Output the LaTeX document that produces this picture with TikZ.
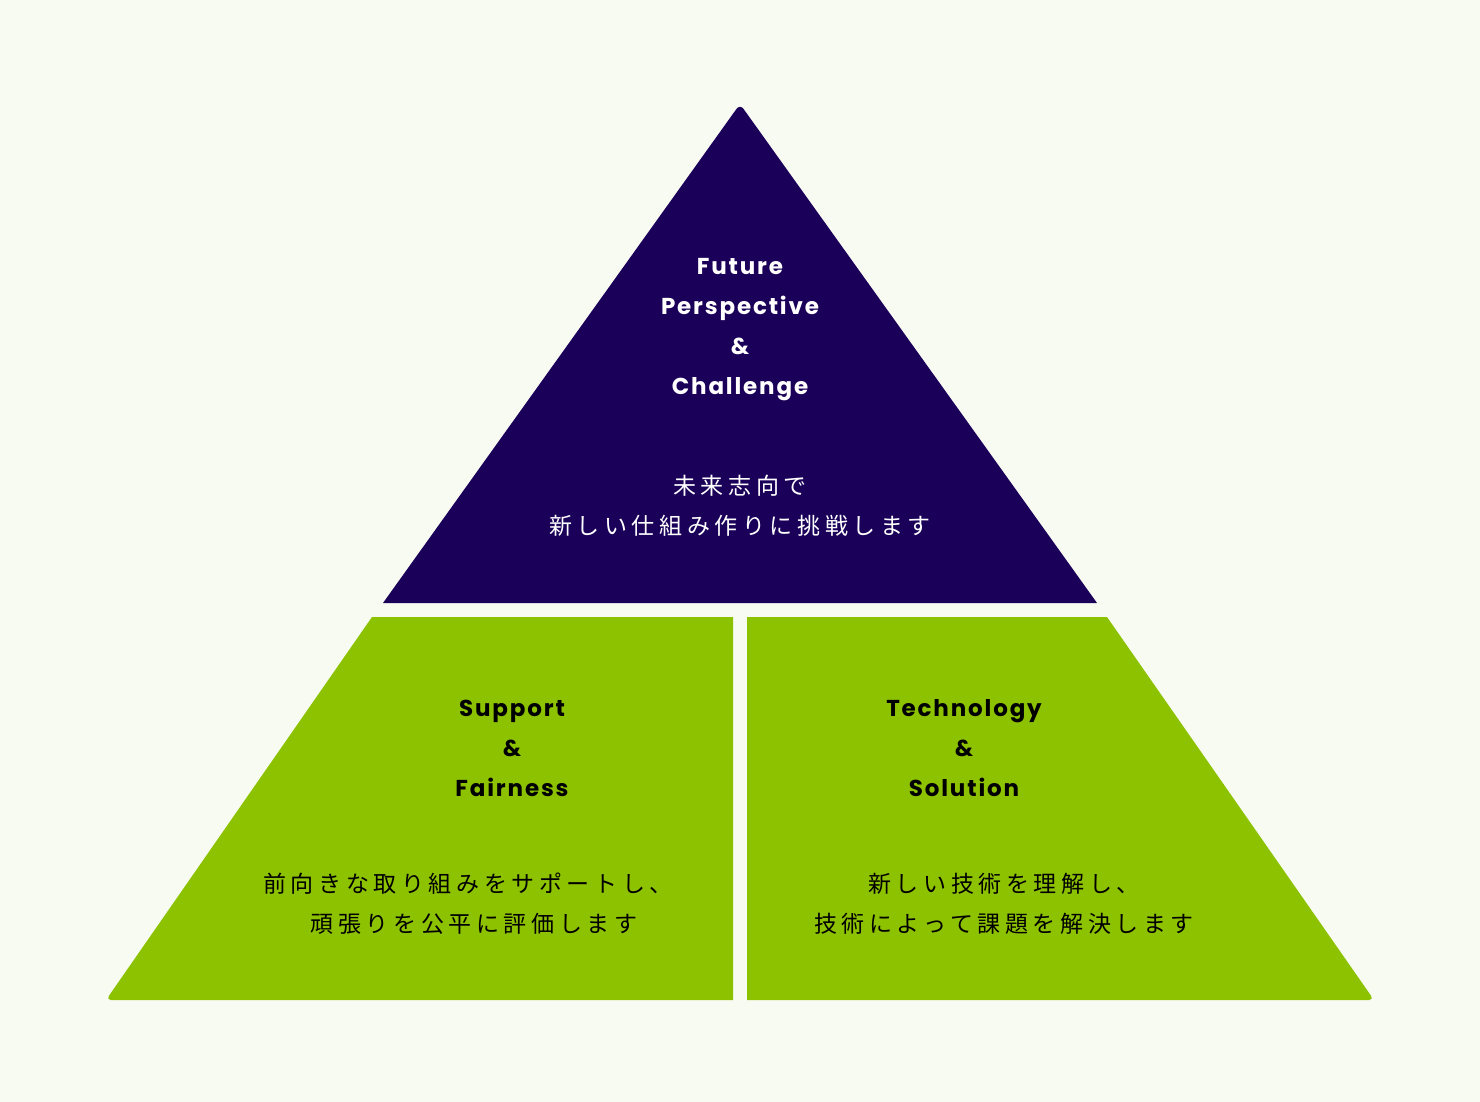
\documentclass[tikz,border=0pt]{standalone}
\usepackage{fontspec}
\newfontfamily\enf[LetterSpace=8]{Poppins}
\newfontfamily\jpf[LetterSpace=20]{Noto Sans CJK JP}
\definecolor{bg}{HTML}{F8FBF2}
\definecolor{navy}{HTML}{1A0058}
\definecolor{lime}{HTML}{8DC200}
\tikzset{
 en/.style={align=center,font=\enf\bfseries\fontsize{23}{40}\selectfont},
 jp/.style={align=center,font=\jpf\fontsize{23}{40}\selectfont}
}
\begin{document}
\begin{tikzpicture}[x=1pt,y=-1pt]
\fill[bg] (0,0) rectangle (1480,1102);
\useasboundingbox (0,0) rectangle (1480,1102);
\fill[navy] (383,603) [rounded corners=6pt] -- (740,104) [sharp corners] -- (1097,603) -- cycle;
\fill[lime] (733,617) -- (372,617) [rounded corners=5pt] -- (106,1000) [sharp corners] -- (733,1000) -- cycle;
\fill[lime] (747,617) -- (1107,617) [rounded corners=5pt] -- (1374,1000) [sharp corners] -- (747,1000) -- cycle;
\node[en,text=white] (t1) at (740,330) {Future\\Perspective\\\&\\Challenge};
\node[jp,text=white] (t2) at (740,506) {未来志向で\\新しい仕組み作りに挑戦します};
\node[en,text=black] (l1) at (512,748) {Support\\\&\\Fairness};
\node[jp,text=black] (l2) at (468,904) {前向きな取り組みをサポートし、\\\hspace*{12pt}頑張りを公平に評価します};
\node[en,text=black] (r1) at (964,748) {Technology\\\&\\Solution};
\node[jp,text=black] (r2) at (1004,904) {新しい技術を理解し、\\技術によって課題を解決します};
\end{tikzpicture}
\end{document}
